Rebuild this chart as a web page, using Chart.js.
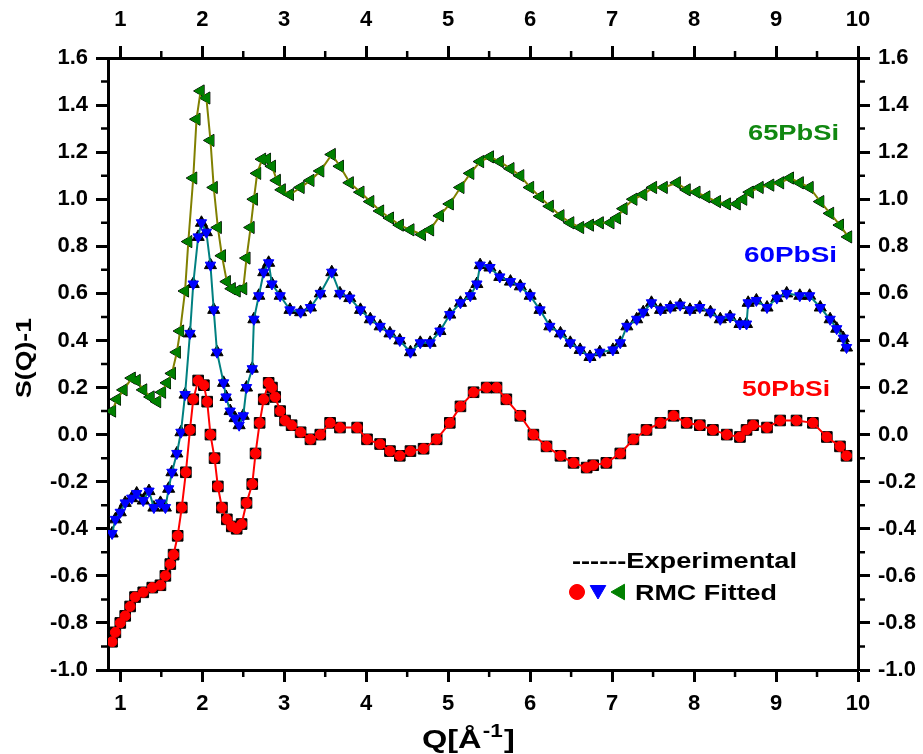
<!DOCTYPE html>
<html>
<head>
<meta charset="utf-8">
<script src="https://cdn.jsdelivr.net/npm/chart.js@4.4.1/dist/chart.umd.min.js"></script>
<style>
  html, body { margin: 0; padding: 0; background: #fff; }
</style>
</head>
<body>
<canvas id="myChart" width="923" height="754"></canvas>
<script>
// Q values (1/Angstrom) and S(Q)-1, one pair of arrays per sample.
const q50 = [0.90,0.94,1.00,1.06,1.12,1.18,1.28,1.39,1.49,1.55,1.61,1.65,1.70,1.75,1.80,1.85,1.89,1.95,2.02,2.06,2.10,2.15,2.19,2.24,2.30,2.36,2.42,2.48,2.54,2.61,2.65,2.70,2.75,2.81,2.85,2.89,2.95,3.01,3.09,3.20,3.32,3.44,3.56,3.68,3.89,4.01,4.17,4.29,4.41,4.54,4.70,4.86,5.02,5.15,5.31,5.47,5.59,5.71,5.88,6.04,6.20,6.37,6.53,6.69,6.77,6.93,7.10,7.26,7.42,7.59,7.75,7.91,8.07,8.23,8.40,8.56,8.64,8.72,8.89,9.05,9.25,9.45,9.62,9.78,9.86];
const s50 = [-0.88,-0.84,-0.80,-0.77,-0.73,-0.69,-0.67,-0.65,-0.64,-0.60,-0.55,-0.51,-0.43,-0.31,-0.16,0.02,0.15,0.23,0.21,0.14,0.00,-0.10,-0.22,-0.31,-0.36,-0.39,-0.40,-0.38,-0.29,-0.21,-0.08,0.05,0.15,0.22,0.20,0.16,0.10,0.06,0.04,0.01,-0.02,0.00,0.05,0.03,0.03,-0.02,-0.04,-0.07,-0.09,-0.07,-0.06,-0.02,0.05,0.12,0.18,0.20,0.20,0.15,0.08,0.00,-0.05,-0.09,-0.12,-0.14,-0.13,-0.12,-0.08,-0.02,0.02,0.05,0.08,0.05,0.04,0.02,0.00,-0.01,0.02,0.04,0.03,0.06,0.06,0.05,-0.01,-0.05,-0.09];

const q60 = [0.90,0.94,1.00,1.06,1.14,1.20,1.28,1.35,1.41,1.49,1.55,1.59,1.63,1.69,1.74,1.79,1.85,1.89,1.95,1.99,2.05,2.10,2.14,2.18,2.26,2.29,2.34,2.40,2.45,2.50,2.54,2.61,2.63,2.69,2.75,2.81,2.85,2.95,3.07,3.20,3.32,3.44,3.58,3.68,3.80,3.93,4.05,4.17,4.29,4.41,4.54,4.66,4.78,4.90,5.02,5.15,5.27,5.35,5.39,5.51,5.63,5.76,5.88,6.00,6.12,6.24,6.37,6.49,6.61,6.73,6.85,7.01,7.10,7.18,7.30,7.38,7.48,7.59,7.71,7.83,7.95,8.07,8.20,8.32,8.44,8.56,8.64,8.66,8.76,8.89,9.01,9.13,9.29,9.41,9.54,9.66,9.74,9.82,9.86];
const s60 = [-0.42,-0.36,-0.33,-0.29,-0.27,-0.25,-0.28,-0.24,-0.31,-0.29,-0.31,-0.23,-0.16,-0.08,0.01,0.17,0.43,0.64,0.84,0.90,0.86,0.72,0.53,0.35,0.22,0.16,0.10,0.07,0.04,0.08,0.20,0.28,0.49,0.59,0.69,0.73,0.64,0.59,0.53,0.52,0.54,0.60,0.69,0.60,0.58,0.53,0.49,0.46,0.43,0.40,0.35,0.39,0.39,0.44,0.51,0.56,0.59,0.64,0.72,0.71,0.67,0.65,0.63,0.59,0.53,0.46,0.43,0.39,0.36,0.33,0.35,0.36,0.39,0.46,0.49,0.52,0.56,0.53,0.54,0.55,0.53,0.54,0.52,0.49,0.50,0.47,0.47,0.56,0.57,0.54,0.58,0.60,0.59,0.59,0.54,0.49,0.45,0.41,0.37];

const q65 = [0.90,0.96,1.04,1.14,1.20,1.28,1.37,1.45,1.51,1.57,1.63,1.69,1.73,1.79,1.83,1.89,1.93,1.98,2.05,2.10,2.14,2.19,2.24,2.30,2.36,2.42,2.50,2.54,2.59,2.63,2.67,2.73,2.79,2.85,2.91,2.97,3.07,3.20,3.32,3.44,3.58,3.68,3.80,3.93,4.05,4.17,4.29,4.41,4.54,4.68,4.78,4.90,5.02,5.15,5.27,5.39,5.51,5.63,5.76,5.88,6.00,6.12,6.24,6.37,6.49,6.61,6.73,6.85,6.98,7.06,7.14,7.26,7.38,7.50,7.63,7.79,7.91,8.03,8.15,8.28,8.40,8.52,8.60,8.68,8.80,8.93,9.05,9.17,9.29,9.41,9.54,9.66,9.78,9.88];
const s65 = [0.10,0.15,0.19,0.24,0.23,0.19,0.16,0.14,0.18,0.22,0.26,0.35,0.44,0.61,0.82,1.09,1.34,1.46,1.43,1.25,1.05,0.88,0.76,0.65,0.62,0.61,0.62,0.75,0.88,1.00,1.11,1.17,1.17,1.14,1.08,1.04,1.02,1.05,1.08,1.12,1.19,1.14,1.07,1.03,0.99,0.95,0.92,0.89,0.87,0.85,0.87,0.93,0.98,1.05,1.11,1.16,1.18,1.16,1.13,1.10,1.05,1.01,0.97,0.93,0.90,0.88,0.89,0.90,0.90,0.92,0.96,1.00,1.02,1.05,1.05,1.07,1.04,1.03,1.01,0.99,0.98,0.98,1.00,1.03,1.05,1.06,1.07,1.09,1.07,1.05,0.99,0.94,0.89,0.84];

// Tick values.
const xTicks = [1, 2, 3, 4, 5, 6, 7, 8, 9, 10];
const xMinor = [1.5, 2.5, 3.5, 4.5, 5.5, 6.5, 7.5, 8.5, 9.5];
const yTicks = [-1.0, -0.8, -0.6, -0.4, -0.2, 0.0, 0.2, 0.4, 0.6, 0.8, 1.0, 1.2, 1.4, 1.6];
const yMinor = [-0.9, -0.7, -0.5, -0.3, -0.1, 0.1, 0.3, 0.5, 0.7, 0.9, 1.1, 1.3, 1.5];

function pts(q, s) {
  return q.map((x, i) => ({ x: x, y: s[i] }));
}

const tickFont = { family: "'Liberation Sans', Arial, sans-serif", size: 22, weight: "bold" };

function fitted(label, q, s, lineColor, markColor, style, rot, r) {
  return {
    label: label,
    data: pts(q, s),
    showLine: true,
    borderColor: lineColor,
    borderWidth: 2,
    pointStyle: style,
    pointRotation: rot,
    pointRadius: r,
    pointBackgroundColor: markColor,
    pointBorderColor: markColor,
    pointBorderWidth: 1,
    order: 0,
  };
}

function experimental(label, q, s, style, rot, r) {
  return {
    label: label,
    data: pts(q, s),
    showLine: false,
    pointStyle: style,
    pointRotation: rot,
    pointRadius: r,
    pointBackgroundColor: "#000",
    pointBorderColor: "#000",
    pointBorderWidth: 1,
    order: 1,
  };
}

const data = {
  datasets: [
    fitted("50PbSi RMC", q50, s50, "#ff0000", "#ff0000", "circle", 0, 5),
    fitted("60PbSi RMC", q60, s60, "#008080", "#0000ff", "triangle", 180, 6),
    fitted("65PbSi RMC", q65, s65, "#808000", "#008000", "triangle", 270, 6),
    experimental("50PbSi exp", q50, s50, "rect", 0, 7.5),
    experimental("60PbSi exp", q60, s60, "triangle", 0, 7),
    experimental("65PbSi exp", q65, s65, "triangle", 270, 7),
  ],
};

function xAxis(pos, h, pad) {
  return {
    type: "linear",
    position: pos,
    min: 0.85,
    max: 10,
    afterBuildTicks: (s) => { s.ticks = xTicks.map((v) => ({ value: v })); },
    afterFit: (s) => { s.height = h; },
    ticks: { font: tickFont, color: "#000", padding: pad, maxRotation: 0, callback: (v) => String(v) },
    grid: { drawOnChartArea: false, tickLength: 12, tickWidth: 3, tickColor: "#000" },
    border: { display: true, width: 3, color: "#000" },
  };
}

function yAxis(pos, w) {
  return {
    type: "linear",
    position: pos,
    min: -1.0,
    max: 1.6,
    afterBuildTicks: (s) => { s.ticks = yTicks.map((v) => ({ value: v })); },
    afterFit: (s) => { s.width = w; },
    ticks: { font: tickFont, color: "#000", padding: 8, callback: (v) => Number(v).toFixed(1) },
    grid: { drawOnChartArea: false, tickLength: 12, tickWidth: 3, tickColor: "#000" },
    border: { display: true, width: 3, color: "#000" },
  };
}

// Draws a bold string squeezed/stretched to a given width.
function fitText(ctx, txt, x, y, w, size, color) {
  ctx.save();
  ctx.font = "bold " + size + "px 'Liberation Sans', Arial, sans-serif";
  const m = ctx.measureText(txt).width;
  ctx.translate(x, y);
  ctx.scale(w / m, 1);
  ctx.fillStyle = color;
  ctx.textAlign = "left";
  ctx.textBaseline = "alphabetic";
  ctx.fillText(txt, 0, 0);
  ctx.restore();
}

const extras = {
  id: "extras",
  afterDraw(chart) {
    const ctx = chart.ctx;
    const a = chart.chartArea;
    const sx = chart.scales.x;
    const sy = chart.scales.y;

    // minor ticks
    ctx.save();
    ctx.strokeStyle = "#000";
    ctx.lineWidth = 2.5;
    ctx.beginPath();
    xMinor.forEach((v) => {
      const px = sx.getPixelForValue(v);
      ctx.moveTo(px, a.bottom); ctx.lineTo(px, a.bottom + 7);
      ctx.moveTo(px, a.top); ctx.lineTo(px, a.top - 7);
    });
    yMinor.forEach((v) => {
      const py = sy.getPixelForValue(v);
      ctx.moveTo(a.left, py); ctx.lineTo(a.left - 7, py);
      ctx.moveTo(a.right, py); ctx.lineTo(a.right + 7, py);
    });
    ctx.stroke();
    ctx.restore();

    // sample labels
    fitText(ctx, "65PbSi", 748, 140, 91, 22, "#118811");
    fitText(ctx, "60PbSi", 744, 262, 93, 22, "#0000ff");
    fitText(ctx, "50PbSi", 742, 396, 88, 22, "#ff0000");

    // legend
    fitText(ctx, "------Experimental", 572, 568, 225, 22, "#000");
    fitText(ctx, "RMC Fitted", 635, 600, 142, 22, "#000");
    ctx.save();
    ctx.fillStyle = "#ff0000"; ctx.strokeStyle = "#ff0000";
    Chart.helpers.drawPoint(ctx, { pointStyle: "circle", radius: 7.5, rotation: 0, borderWidth: 1 }, 577, 592);
    ctx.fill();
    ctx.fillStyle = "#0000ff"; ctx.strokeStyle = "#0000ff";
    Chart.helpers.drawPoint(ctx, { pointStyle: "triangle", radius: 9, rotation: 180, borderWidth: 1 }, 598, 590);
    ctx.fillStyle = "#008000"; ctx.strokeStyle = "#008000";
    Chart.helpers.drawPoint(ctx, { pointStyle: "triangle", radius: 9, rotation: 270, borderWidth: 1 }, 620, 592);
    ctx.restore();

    // y title
    ctx.save();
    ctx.translate(31, 358);
    ctx.rotate(-Math.PI / 2);
    fitText(ctx, "S(Q)-1", -40, 0, 80, 22, "#000");
    ctx.restore();

    // x title with superscript
    ctx.save();
    ctx.fillStyle = "#000";
    ctx.translate(422, 748);
    ctx.scale(1.25, 1);
    ctx.font = "bold 26px 'Liberation Sans', Arial, sans-serif";
    ctx.fillText("Q[\u00c5", 0, 0);
    let w = ctx.measureText("Q[\u00c5").width;
    ctx.font = "bold 18px 'Liberation Sans', Arial, sans-serif";
    ctx.fillText("-1", w + 1, -11);
    w += ctx.measureText("-1").width + 2;
    ctx.font = "bold 26px 'Liberation Sans', Arial, sans-serif";
    ctx.fillText("]", w, 0);
    ctx.restore();
  },
};

const config = {
  type: "scatter",
  data: data,
  options: {
    responsive: false,
    animation: false,
    layout: { padding: 0 },
    scales: {
      x: xAxis("bottom", 84, 9),
      x2: xAxis("top", 58, 13),
      y: yAxis("left", 108),
      y2: yAxis("right", 65),
    },
    plugins: {
      legend: { display: false },
      tooltip: { enabled: false },
    },
  },
  plugins: [extras],
};

let myChart = new Chart(document.getElementById("myChart"), config);
</script>
</body>
</html>
